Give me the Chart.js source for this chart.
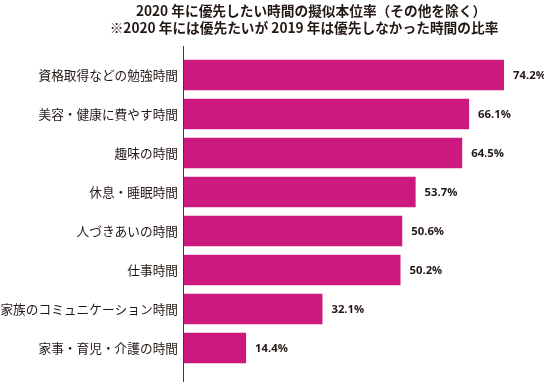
<!DOCTYPE html>
<html>
<head>
<meta charset="utf-8">
<script src="https://cdn.jsdelivr.net/npm/chart.js@4/dist/chart.umd.min.js"></script>
<style>
  html, body { margin: 0; padding: 0; background: #fff; }
  #wrap { width: 544px; height: 382px; position: relative; }
</style>
</head>
<body>
<div id="wrap"><canvas id="grafico"></canvas></div>
<script>
const titulos = [
    "2020 年に優先したい時間の擬似本位率（その他を除く）",
    "※2020 年には優先たいが 2019 年は優先しなかった時間の比率"
];
const categorias = [
    "資格取得などの勉強時間",
    "美容・健康に費やす時間",
    "趣味の時間",
    "休息・睡眠時間",
    "人づきあいの時間",
    "仕事時間",
    "家族のコミュニケーション時間",
    "家事・育児・介護の時間"
];
const valores = [74.2, 66.1, 64.5, 53.7, 50.6, 50.2, 32.1, 14.4];

const colorBarra = "#CD1880";
const colorTexto = "#231815";
const fuenteJP = "'Noto Sans CJK JP', 'Noto Sans', sans-serif";

// titulo y linea del eje dibujados a mano
const extras = {
    id: "extras",
    afterDraw(chart) {
        const ctx = chart.ctx;
        const x0 = chart.scales.x.getPixelForValue(0);
        ctx.save();
        ctx.strokeStyle = "#3a3a3a";
        ctx.lineWidth = 1;
        ctx.beginPath();
        ctx.moveTo(Math.round(x0) - 0.5, 46);
        ctx.lineTo(Math.round(x0) - 0.5, 382);
        ctx.stroke();

        ctx.fillStyle = colorTexto;
        ctx.font = "bold 13.7px " + fuenteJP;
        ctx.textAlign = "center";
        ctx.textBaseline = "middle";
        ctx.fillText(titulos[0], 311, 11);
        ctx.fillText(titulos[1], 304, 28);

        // valores al final de cada barra
        const meta = chart.getDatasetMeta(0);
        ctx.font = "bold 11.3px 'Open Sans', 'Noto Sans', sans-serif";
        ctx.textAlign = "left";
        meta.data.forEach(function (bar, i) {
            ctx.fillText(valores[i].toFixed(1) + "%", bar.x + 9, bar.y + 1);
        });
        ctx.restore();
    }
};

const ctx = document.getElementById("grafico").getContext("2d");
const chart = new Chart(ctx, {
    type: "bar",
    data: {
        labels: categorias,
        datasets: [{
            data: valores,
            backgroundColor: colorBarra,
            borderWidth: 0,
            barPercentage: 0.78,
            categoryPercentage: 1
        }]
    },
    options: {
        indexAxis: "y",
        responsive: true,
        maintainAspectRatio: false,
        animation: false,
        layout: {
            padding: { top: 55.5, bottom: 14.5, left: 0, right: 2 }
        },
        plugins: {
            legend: { display: false },
            tooltip: { enabled: false }
        },
        scales: {
            x: {
                display: false,
                min: 0,
                max: 83
            },
            y: {
                afterFit: function (scale) { scale.width = 184; },
                grid: { display: false, drawTicks: false },
                border: { display: false },
                ticks: {
                    padding: 6,
                    color: colorTexto,
                    font: { family: fuenteJP, size: 12.7 }
                }
            }
        }
    },
    plugins: [extras]
});
</script>
</body>
</html>
